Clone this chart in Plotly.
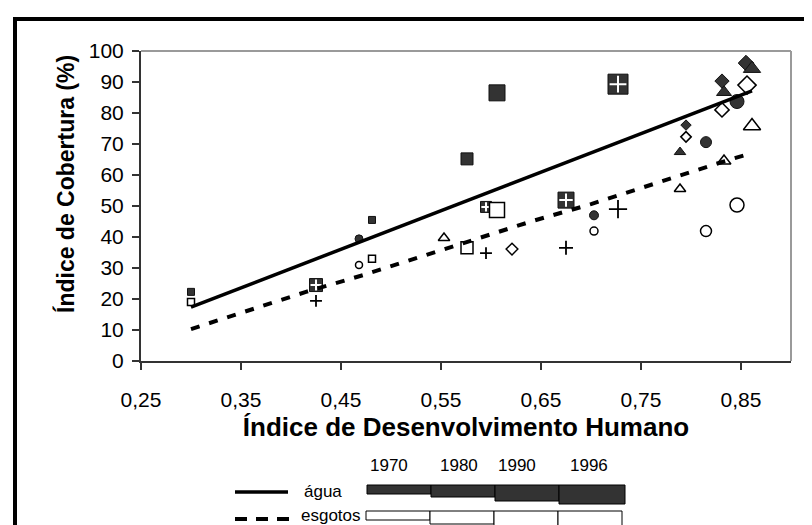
import plotly.graph_objects as go

# ---------------- data ----------------
x_ticks = [0.25, 0.35, 0.45, 0.55, 0.65, 0.75, 0.85]
x_tick_labels = ["0,25", "0,35", "0,45", "0,55", "0,65", "0,75", "0,85"]
y_ticks = [0, 10, 20, 30, 40, 50, 60, 70, 80, 90, 100]

years = ["1970", "1980", "1990", "1996"]

# group: squares
x_sq = [0.300, 0.481, 0.576, 0.606]
agua_sq = [22.3, 45.5, 65.2, 86.5]
esg_sq = [19.0, 33.0, 36.5, 48.7]

# group: circles
x_ci = [0.468, 0.703, 0.815, 0.846]
agua_ci = [39.4, 47.0, 70.6, 83.7]
esg_ci = [31.0, 41.9, 41.9, 50.3]

# group: diamonds
x_di_agua = [0.795, 0.831, 0.855]
agua_di = [76.1, 90.3, 96.1]
x_di_esg = [0.621, 0.795, 0.831, 0.856]
esg_di = [36.1, 72.3, 81.0, 89.0]

# group: triangles
x_tr_agua = [0.789, 0.833, 0.861]
agua_tr = [67.4, 86.7, 94.3]
x_tr_esg = [0.553, 0.789, 0.833, 0.861]
esg_tr = [39.7, 55.5, 64.5, 75.8]

# group: crossed squares (água) / plus signs (esgotos)
x_pl = [0.425, 0.595, 0.675, 0.727]
agua_pl = [24.5, 49.7, 51.9, 89.3]
esg_pl = [19.4, 34.8, 36.5, 49.0]

# trend lines
agua_trend_x = [0.300, 0.861]
agua_trend_y = [17.4, 87.1]
esg_trend_x = [0.300, 0.357, 0.415, 0.472, 0.529, 0.585, 0.642, 0.700, 0.737, 0.775, 0.834, 0.855]
esg_trend_y = [10.3, 16.1, 22.3, 27.7, 33.5, 39.4, 45.2, 50.6, 54.5, 58.4, 64.5, 66.5]

# ---------------- styles ----------------
FONT = "Arial, 'Liberation Sans', sans-serif"
DARK = "#333333"
L, R, T, B = 133, 29, 43, 172
W, H = 812, 525
PW, PH = W - L - R, H - T - B


def px(xp):
    return (xp - L) / PW


def py(yp):
    return (H - B - yp) / PH


sz_sq_agua = [7, 7, 12, 16]
sz_sq_esg = [7, 7, 12, 15]
sz_ci_agua = [8, 9, 11, 14]
sz_ci_esg = [7, 8, 11, 14]
sz_di_agua = [8, 11, 12]
sz_di_esg = [9, 8, 11, 14]
sz_tr_agua = [10, 13, 15]
sz_tr_esg = [10, 10, 12, 15]
sz_pl_agua = [13, 11, 16, 20]
sz_pl_esg = [8.5, 8.5, 10, 13]

fig = go.Figure()


def dark(x, y, sym, sz, name):
    fig.add_trace(go.Scatter(x=x, y=y, mode="markers", name=name, showlegend=False,
                             marker=dict(symbol=sym, size=sz, color=DARK, opacity=1,
                                         line=dict(color="#111111", width=1))))


def white(x, y, sym, sz, name):
    fig.add_trace(go.Scatter(x=x, y=y, mode="markers", name=name, showlegend=False,
                             marker=dict(symbol=sym, size=sz, color="white", opacity=1,
                                         line=dict(color="black", width=1.5))))


# crossed squares + plus signs
dark(x_pl, agua_pl, "square", sz_pl_agua, "água")
fig.add_trace(go.Scatter(x=x_pl, y=agua_pl, mode="markers", showlegend=False, hoverinfo="skip",
                         marker=dict(symbol="cross-thin", size=[s * 0.6 for s in sz_pl_agua], opacity=1,
                                     line=dict(color="white", width=2))))
fig.add_trace(go.Scatter(x=x_pl, y=esg_pl, mode="markers", showlegend=False, name="esgotos",
                         marker=dict(symbol="cross-thin", size=sz_pl_esg, opacity=1,
                                     line=dict(color="black", width=1.8))))

dark(x_sq, agua_sq, "square", sz_sq_agua, "água")
white(x_sq, esg_sq, "square", sz_sq_esg, "esgotos")
dark(x_ci, agua_ci, "circle", sz_ci_agua, "água")
white(x_ci, esg_ci, "circle", sz_ci_esg, "esgotos")
white(x_di_esg, esg_di, "diamond", sz_di_esg, "esgotos")
dark(x_di_agua, agua_di, "diamond", sz_di_agua, "água")
white(x_tr_esg, esg_tr, "triangle-up", sz_tr_esg, "esgotos")
dark(x_tr_agua, agua_tr, "triangle-up", sz_tr_agua, "água")

# trend lines
fig.add_trace(go.Scatter(x=agua_trend_x, y=agua_trend_y, mode="lines", showlegend=False,
                         name="água", line=dict(color="black", width=3.5)))
fig.add_trace(go.Scatter(x=esg_trend_x, y=esg_trend_y, mode="lines", showlegend=False,
                         name="esgotos", line=dict(color="black", width=4, dash="9px,10px")))

shapes = []
# outer frame
shapes.append(dict(type="rect", xref="paper", yref="paper", x0=px(7), x1=px(840), y0=py(560), y1=py(11),
                   line=dict(color="black", width=4), fillcolor="rgba(0,0,0,0)", layer="below"))
# grey top / right border of plot area
shapes.append(dict(type="line", xref="paper", yref="paper", x0=0, x1=1, y0=1, y1=1,
                   line=dict(color="#9a9a9a", width=2)))
shapes.append(dict(type="line", xref="paper", yref="paper", x0=1, x1=1, y0=0, y1=1,
                   line=dict(color="#9a9a9a", width=2)))

# legend: line samples
shapes.append(dict(type="line", xref="paper", yref="paper", x0=px(227), x1=px(280), y0=py(484), y1=py(484),
                   line=dict(color="black", width=3.5)))
shapes.append(dict(type="line", xref="paper", yref="paper", x0=px(227), x1=px(281), y0=py(511), y1=py(511),
                   line=dict(color="black", width=4, dash="12px,9px")))

# legend: year boxes (size grows with year)
dark_edges = [359, 423, 487, 551, 617]
white_edges = [358, 422, 486, 550, 614]
dark_h = [9, 12, 16, 19]
white_h = [9, 13, 16, 20]
for i in range(len(years)):
    shapes.append(dict(type="rect", xref="paper", yref="paper",
                       x0=px(dark_edges[i]), x1=px(dark_edges[i + 1]),
                       y0=py(477 + dark_h[i]), y1=py(477),
                       fillcolor=DARK, line=dict(color="black", width=1)))
    shapes.append(dict(type="rect", xref="paper", yref="paper",
                       x0=px(white_edges[i]), x1=px(white_edges[i + 1]),
                       y0=py(503 + white_h[i]), y1=py(503),
                       fillcolor="white", line=dict(color="black", width=1)))

annotations = []
year_label_x = [381, 451, 509, 581]
for i, yr in enumerate(years):
    annotations.append(dict(text=yr, xref="paper", yref="paper", x=px(year_label_x[i]), y=py(457),
                            showarrow=False, xanchor="center", yanchor="middle",
                            font=dict(family=FONT, size=17, color="black")))
annotations.append(dict(text="água", xref="paper", yref="paper", x=px(315), y=py(483),
                        showarrow=False, xanchor="center", yanchor="middle",
                        font=dict(family=FONT, size=17, color="black")))
annotations.append(dict(text="esgotos", xref="paper", yref="paper", x=px(355), y=py(507),
                        showarrow=False, xanchor="right", yanchor="middle",
                        font=dict(family=FONT, size=17, color="black")))
# y-axis title (sits a little above the plot centre in the reference)
annotations.append(dict(text="<b>Índice de Cobertura (%)</b>", xref="paper", yref="paper",
                        x=px(57), y=py(176), textangle=-90, showarrow=False,
                        xanchor="center", yanchor="middle",
                        font=dict(family=FONT, size=23, color="black")))

axis_common = dict(showgrid=False, zeroline=False, showline=True, linecolor="#333333", linewidth=2,
                   ticks="outside", ticklen=7, tickwidth=1.5, tickcolor="#333333",
                   tickfont=dict(family=FONT, size=21, color="black"))

fig.update_layout(
    width=W, height=H, autosize=False,
    margin=dict(l=L, r=R, t=T, b=B, pad=0),
    paper_bgcolor="white", plot_bgcolor="white",
    showlegend=False,
    font=dict(family=FONT, color="black"),
    xaxis=dict(range=[0.25, 0.90], tickvals=x_ticks, ticktext=x_tick_labels,
               title=dict(text="<b>Índice de Desenvolvimento Humano</b>", standoff=8,
                          font=dict(family=FONT, size=26, color="black")),
               ticklabelstandoff=12, **axis_common),
    yaxis=dict(range=[0, 100], tickvals=y_ticks, ticklabelstandoff=4, **axis_common),
    shapes=shapes,
    annotations=annotations,
)

fig.write_html("out.html")
